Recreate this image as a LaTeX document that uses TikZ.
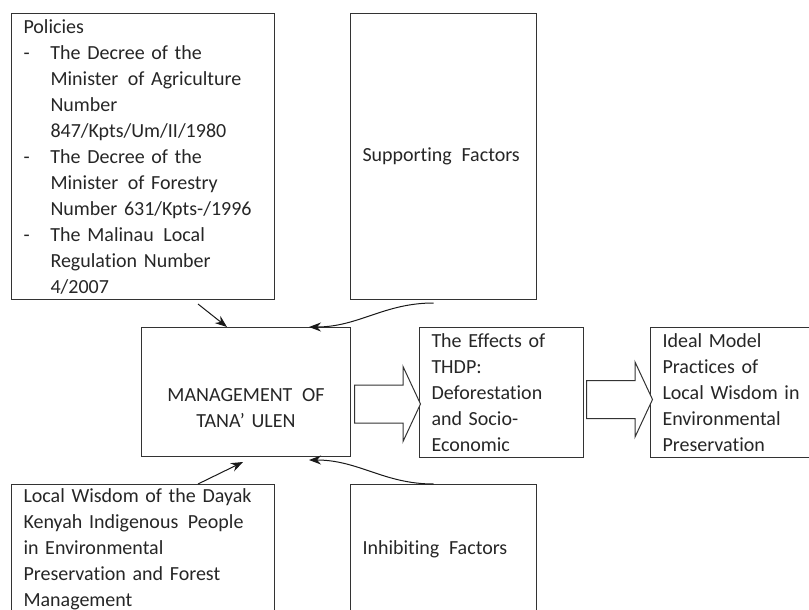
\documentclass[tikz,border=0pt]{standalone}
\usepackage{fontspec}
\setmainfont[Ligatures=NoCommon]{Carlito}
\usepackage{tikz}
\usetikzlibrary{arrows.meta,shapes.arrows}
\newcommand{\poldash}{\makebox[27pt][l]{-}}
\newcommand{\polind}{\hspace*{27pt}}
\newcommand{\wsp}{\hspace{3pt} }

\begin{document}
\begin{tikzpicture}[x=1pt,y=-1pt,>={Stealth[length=12pt,width=9pt]},semithick]
\tikzstyle{box} = [rectangle,draw=black!80,line width=1pt,anchor=north west,inner xsep=12pt,inner ysep=0pt,align=left,font=\fontsize{20}{26}\selectfont,text=black!85]
\tikzstyle{bigarrow} = [single arrow,draw=black!80,line width=1pt,fill=white,anchor=tail,inner xsep=0pt,inner ysep=18.5pt,minimum height=66pt,single arrow head extend=18.5pt,single arrow tip angle=130]
\tikzstyle{link} = [->,line width=1pt,black!90]
    \clip (0,0) rectangle (809,610);
    \node[box,minimum width=263pt,minimum height=286pt,text width=239pt] (pol) at (11,13)
        {Policies\\
         \poldash The Decree of the\\
         \polind Minister\wsp of Agriculture\\
         \polind Number\\
         \polind 847/Kpts/Um/II/1980\\
         \poldash The Decree of the\\
         \polind Minister\wsp of Forestry\\
         \polind Number 631/Kpts-/1996\\
         \poldash The Malinau\wsp Local\\
         \polind Regulation Number\\
         \polind 4/2007};
    \node[box,minimum width=186pt,minimum height=286pt,text width=162pt] (sup) at (350,13) {Supporting\wsp Factors};
    \node[box,minimum width=209pt,minimum height=129pt,text width=185pt,align=center] (man) at (141,327)
        {\strut\\MANAGEMENT\wsp OF\\TANA’ ULEN};
    \node[box,minimum width=164pt,minimum height=130pt,text width=140pt] (eff) at (419,327)
        {The Effects of\\THDP:\\Deforestation\\and Socio-\\Economic};
    \node[box,minimum width=175pt,minimum height=130pt,text width=151pt] (ideal) at (650,327)
        {Ideal Model\\Practices of\\Local Wisdom in\\Environmental\\Preservation};
    \node[box,minimum width=263pt,minimum height=130pt,text width=239pt] (loc) at (11,484)
        {Local Wisdom of the Dayak\\Kenyah Indigenous\wsp People\\in Environmental\\Preservation and Forest\\Management};
    \node[box,minimum width=186pt,minimum height=130pt,text width=162pt] (inh) at (350,484) {Inhibiting\wsp Factors};

    \node[bigarrow] (arr1) at ([xshift=3pt,yshift=-12pt]man.east) {};
    \node[bigarrow] (arr2) at ([xshift=2pt,yshift=-7pt]eff.east) {};

    \draw[link] ([xshift=-77pt,yshift=-4pt]pol.south east) -- ([xshift=-19pt]man.north);
    \draw[link] ([xshift=-77pt]loc.north east) -- ([xshift=-3pt,yshift=-5pt]man.south);
    \draw[link] ([xshift=-10pt,yshift=-3pt]sup.south) to[out=180,in=0] ([xshift=-42pt]man.north east);
    \draw[link] ([xshift=-10pt]inh.north) to[out=180,in=0] ([xshift=-42pt,yshift=-3pt]man.south east);
\end{tikzpicture}
\end{document}
